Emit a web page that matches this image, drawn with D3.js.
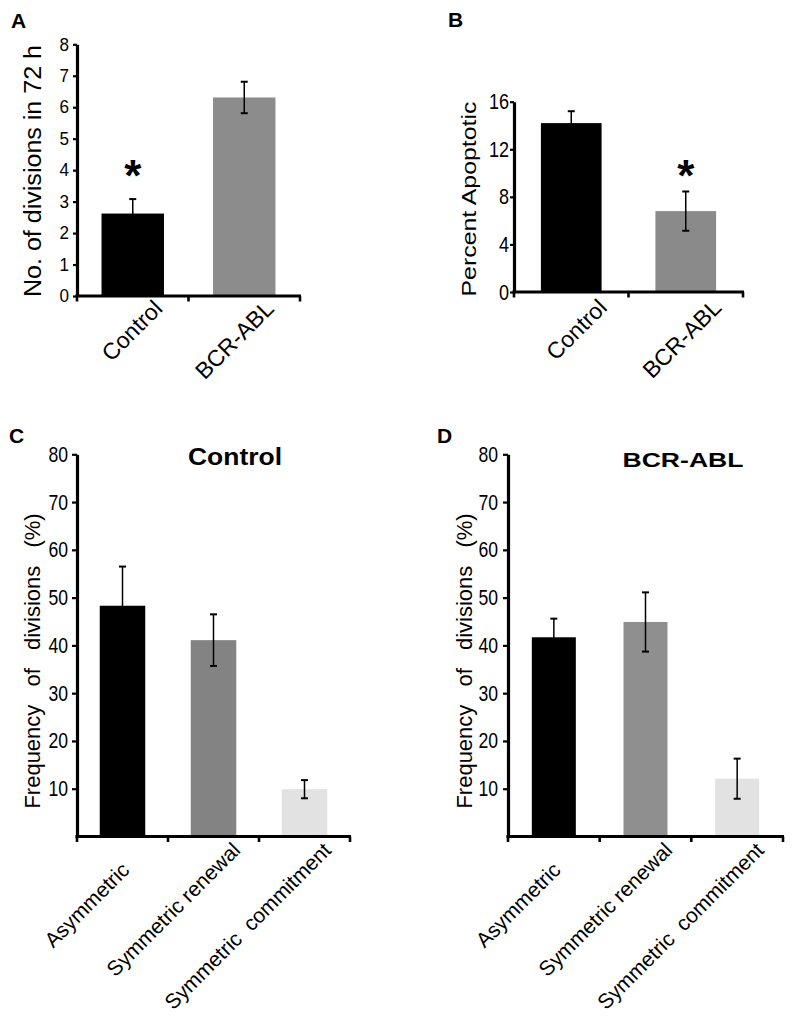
<!DOCTYPE html>
<html><head><meta charset="utf-8">
<script src="https://cdn.jsdelivr.net/npm/d3@7"></script>
<style>
body{margin:0;background:#fff}
svg{display:block}
text{font-family:"Liberation Sans",Arial,Helvetica,sans-serif;fill:#000}
</style>
</head><body>
<svg id="chart" width="800" height="1018"></svg>
<script>
// ---------------- DATA ----------------
const categoriesAB = ["Control", "BCR-ABL"];
const divisionsValues = [2.62, 6.31];
const divisionsErrors = [0.46, 0.50];
const divisionsTicks = [0, 1, 2, 3, 4, 5, 6, 7, 8];
const divisionsSignificant = [true, false];

const apoptoticValues = [14.2, 6.8];
const apoptoticErrors = [1.0, 1.65];
const apoptoticTicks = [0, 4, 8, 12, 16];
const apoptoticSignificant = [false, true];

const divisionTypes = ["Asymmetric", "Symmetric renewal", "Symmetric  commitment"];
const controlFreqValues = [48.3, 41.1, 9.9];
const controlFreqErrors = [8.2, 5.4, 1.9];
const bcrablFreqValues = [41.7, 44.9, 12.1];
const bcrablFreqErrors = [3.9, 6.2, 4.2];
const freqTicks = [10, 20, 30, 40, 50, 60, 70, 80];

// ---------------- DRAW ----------------
const svg = d3.select("#chart");

function panel(cfg) {
  const g = svg.append("g");
  const x = d3.scaleBand().domain(cfg.categories).range(cfg.xRange).paddingInner(0).paddingOuter(0);
  const y = d3.scaleLinear().domain(cfg.yDomain).range(cfg.yRange);
  const bw = x.step() * cfg.barFrac;
  const cx = c => x(c) + x.bandwidth() / 2;
  const rows = cfg.categories.map((c, i) => ({c, v: cfg.values[i], e: cfg.errors[i], col: cfg.colors[i], sig: cfg.sig ? cfg.sig[i] : false}));

  // bars
  g.selectAll("rect.bar").data(rows).join("rect")
    .attr("class", "bar")
    .attr("x", d => cx(d.c) - bw / 2)
    .attr("width", bw)
    .attr("y", d => y(d.v))
    .attr("height", d => y(0) - y(d.v))
    .attr("fill", d => d.col);

  // error bars
  const eb = g.selectAll("g.err").data(rows).join("g").attr("class", "err")
    .attr("stroke", "#000").attr("stroke-width", 1.5);
  eb.append("line").attr("x1", d => cx(d.c)).attr("x2", d => cx(d.c))
    .attr("y1", d => y(d.v - d.e)).attr("y2", d => y(d.v + d.e));
  eb.append("line").attr("x1", d => cx(d.c) - 3.5).attr("x2", d => cx(d.c) + 3.5)
    .attr("y1", d => y(d.v + d.e)).attr("y2", d => y(d.v + d.e)).attr("stroke-width", 2);
  eb.append("line").attr("x1", d => cx(d.c) - 3.5).attr("x2", d => cx(d.c) + 3.5)
    .attr("y1", d => y(d.v - d.e)).attr("y2", d => y(d.v - d.e)).attr("stroke-width", 2);

  // significance
  g.selectAll("text.sig").data(rows.filter(d => d.sig)).join("text")
    .attr("class", "sig")
    .attr("x", d => cx(d.c))
    .attr("y", d => y(d.v + d.e) - cfg.sigGap)
    .attr("text-anchor", "middle")
    .attr("font-size", 44).attr("font-weight", "bold")
    .text("*");

  // y axis
  const ax = d3.axisLeft(y).tickValues(cfg.ticks).tickSize(cfg.tickLen).tickSizeOuter(0);
  const yg = g.append("g").attr("transform", `translate(${cfg.xRange[0]},0)`).call(ax);
  yg.select(".domain").attr("stroke", "#000").attr("stroke-width", 3.2);
  yg.selectAll(".tick line").attr("stroke", "#000").attr("stroke-width", 2.2);
  yg.selectAll(".tick text")
    .attr("font-family", "'Liberation Sans',Arial,sans-serif")
    .attr("font-size", cfg.tickFont)
    .attr("fill", "#000")
    .attr("x", -cfg.tickGap / cfg.tickScale)
    .attr("transform", `scale(${cfg.tickScale},1)`);

  // x axis (line + ticks at band boundaries)
  const y0 = y(0);
  const bounds = d3.range(cfg.categories.length + 1).map(i => cfg.xRange[0] + i * x.step());
  g.append("line").attr("x1", cfg.xRange[0] - 1.6).attr("x2", cfg.xRange[1] + 1)
    .attr("y1", y0).attr("y2", y0).attr("stroke", "#000").attr("stroke-width", 3.2);
  g.selectAll("line.xt").data(bounds).join("line").attr("class", "xt")
    .attr("x1", d => d).attr("x2", d => d).attr("y1", y0).attr("y2", y0 + 5.5)
    .attr("stroke", "#000").attr("stroke-width", 2.6);

  // x labels
  g.selectAll("text.xl").data(rows).join("text").attr("class", "xl")
    .attr("text-anchor", "end")
    .attr("font-size", cfg.xFont)
    .attr("xml:space", "preserve")
    .attr("transform", (d, i) => {
      const s = cfg.xShift ? cfg.xShift[i] : 0;
      return `translate(${cx(d.c) + cfg.xdx - s * 0.7071},${y0 + cfg.xdy + s * 0.7071}) rotate(-45)`;
    })
    .text(d => d.c);

  // y title
  const yt = g.append("text")
    .attr("transform", `translate(${cfg.yTitleX},${cfg.yTitleY}) rotate(-90)`)
    .attr("text-anchor", "middle")
    .attr("font-size", cfg.yTitleFont)
    .attr("word-spacing", cfg.wordSpacing || 0)
    .text(cfg.yTitle);
  if (cfg.yTitleLen) yt.attr("textLength", cfg.yTitleLen).attr("lengthAdjust", "spacingAndGlyphs");

  // panel title
  if (cfg.title) {
    g.append("text").attr("x", cfg.titleX).attr("y", cfg.titleY)
      .attr("text-anchor", "middle").attr("font-weight", "bold")
      .attr("font-size", cfg.titleFont)
      .attr("textLength", cfg.titleLen).attr("lengthAdjust", "spacingAndGlyphs")
      .text(cfg.title);
  }
  // panel letter
  g.append("text").attr("x", cfg.letterX).attr("y", cfg.letterY)
    .attr("font-weight", "bold").attr("font-size", 21).text(cfg.letter);
}

panel({
  letter: "A", letterX: 11, letterY: 28,
  categories: categoriesAB, values: divisionsValues, errors: divisionsErrors, sig: divisionsSignificant,
  colors: ["#000000", "#8c8c8c"],
  xRange: [77, 300], yDomain: [0, 8], yRange: [296, 44.3], ticks: divisionsTicks,
  barFrac: 0.56, tickLen: 4, tickFont: 18, tickScale: 0.95, tickGap: 8, sigGap: 8,
  xFont: 23, xdx: 31, xdy: 14,
  yTitle: "No. of divisions in 72 h", yTitleX: 41, yTitleY: 171, yTitleFont: 23, yTitleLen: 252
});

panel({
  letter: "B", letterX: 448, letterY: 27,
  categories: categoriesAB, values: apoptoticValues, errors: apoptoticErrors, sig: apoptoticSignificant,
  colors: ["#000000", "#8a8a8a"],
  xRange: [514, 743], yDomain: [0, 16], yRange: [292, 101.7], ticks: apoptoticTicks,
  barFrac: 0.53, tickLen: 4, tickFont: 22, tickScale: 0.82, tickGap: 5, sigGap: 0,
  xFont: 23, xdx: 37, xdy: 17,
  yTitle: "Percent Apoptotic", yTitleX: 476, yTitleY: 199, yTitleFont: 19.5, yTitleLen: 195
});

panel({
  letter: "C", letterX: 9, letterY: 443,
  categories: divisionTypes, values: controlFreqValues, errors: controlFreqErrors,
  colors: ["#000000", "#838383", "#e2e2e2"],
  xRange: [77, 350], yDomain: [0, 80], yRange: [836.5, 454.3], ticks: freqTicks,
  barFrac: 0.5, tickLen: 5, tickFont: 22, tickScale: 0.8, tickGap: 9, sigGap: 0,
  xFont: 21, xdx: 28, xdy: 15, xShift: [28, 0, 0],
  yTitle: "Frequency of divisions (%)", yTitleX: 40, yTitleY: 661, yTitleFont: 22, wordSpacing: 12,
  title: "Control", titleX: 235, titleY: 465, titleFont: 24, titleLen: 94
});

panel({
  letter: "D", letterX: 437, letterY: 443,
  categories: divisionTypes, values: bcrablFreqValues, errors: bcrablFreqErrors,
  colors: ["#000000", "#8f8f8f", "#e2e2e2"],
  xRange: [508, 783], yDomain: [0, 80], yRange: [836.5, 454.3], ticks: freqTicks,
  barFrac: 0.48, tickLen: 5, tickFont: 22, tickScale: 0.8, tickGap: 10, sigGap: 0,
  xFont: 21, xdx: 28, xdy: 15, xShift: [28, 0, 0],
  yTitle: "Frequency of divisions (%)", yTitleX: 472, yTitleY: 661, yTitleFont: 22, wordSpacing: 12,
  title: "BCR-ABL", titleX: 683, titleY: 466.5, titleFont: 20, titleLen: 121
});
</script>
</body></html>
